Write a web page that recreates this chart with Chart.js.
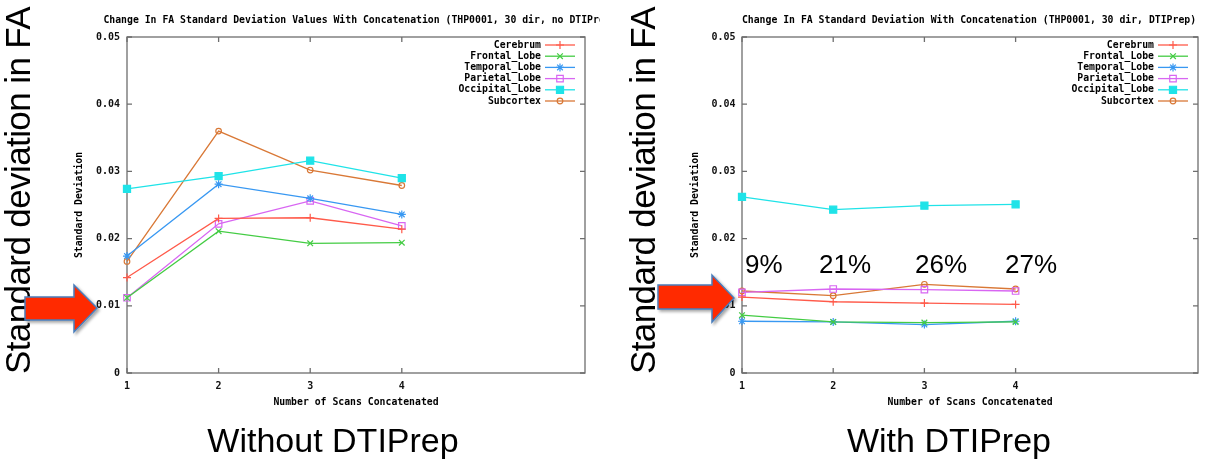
<!DOCTYPE html>
<html>
<head>
<meta charset="utf-8">
<script src="https://cdn.jsdelivr.net/npm/chart.js@4.4.1/dist/chart.umd.min.js"></script>
<style>
html, body { margin: 0; padding: 0; background: #fff; }
body { width: 1205px; height: 461px; position: relative; overflow: hidden; font-family: "Liberation Sans", Arial, sans-serif; color: #000; }
.panel { position: absolute; top: 0; height: 420px; }
#leftBox { left: 0; width: 600px; }
#rightBox { left: 600px; width: 605px; background: #fff; }
.big { position: absolute; left: 0; top: 0; font-size: 35px; letter-spacing: -0.6px; line-height: 1; white-space: nowrap; transform-origin: 0 0; }
.caption { position: absolute; font-size: 34px; line-height: 1; white-space: nowrap; transform: translate(-50%, -50%); }
.pct { position: absolute; top: 251px; font-size: 26px; line-height: 1; white-space: nowrap; }
svg.arrows { position: absolute; left: 0; top: 0; }
</style>
</head>
<body>
<div class="panel" id="leftBox"><canvas id="noPrepChart"></canvas></div>
<div class="panel" id="rightBox"><canvas id="prepChart"></canvas></div>

<div class="big" style="transform: translate(0px, 374px) rotate(-90deg);">Standard deviation in FA</div>
<div class="big" style="transform: translate(625px, 374px) rotate(-90deg);">Standard deviation in FA</div>

<svg class="arrows" width="1205" height="461">
  <defs>
    <filter id="shadow" x="-20%" y="-20%" width="150%" height="150%">
      <feDropShadow dx="2" dy="2" stdDeviation="1.5" flood-color="#000" flood-opacity="0.35"/>
    </filter>
  </defs>
  <polygon points="25,297 74,297 74,285 97,308 74,332 74,320 25,320" fill="#ff2a00" stroke="#4a7ebb" stroke-width="1.5" filter="url(#shadow)"/>
  <polygon points="658,285 712,285 712,275 734,298 712,322 712,309 658,309" fill="#ff2a00" stroke="#4a7ebb" stroke-width="1.5" filter="url(#shadow)"/>
</svg>

<div class="pct" style="left:745px;">9%</div>
<div class="pct" style="left:819px;">21%</div>
<div class="pct" style="left:915px;">26%</div>
<div class="pct" style="left:1005px;">27%</div>

<div class="caption" style="left:333px; top:440px;">Without DTIPrep</div>
<div class="caption" style="left:949px; top:440px;">With DTIPrep</div>

<script>
// number of scans concatenated
var xScans = [1, 2, 3, 4];
var xTicks = [1, 2, 3, 4];
var yTicks = [0, 0.01, 0.02, 0.03, 0.04, 0.05];

var regions = ["Cerebrum", "Frontal_Lobe", "Temporal_Lobe", "Parietal_Lobe", "Occipital_Lobe", "Subcortex"];

// FA standard deviation, no DTIPrep
var cerebrumNo  = [0.0142, 0.0230, 0.0231, 0.0214];
var frontalNo   = [0.0112, 0.0211, 0.0193, 0.0194];
var temporalNo  = [0.0174, 0.0281, 0.0260, 0.0236];
var parietalNo  = [0.0112, 0.0222, 0.0256, 0.0219];
var occipitalNo = [0.0274, 0.0293, 0.0316, 0.0290];
var subcortexNo = [0.0166, 0.0360, 0.0302, 0.0279];

// FA standard deviation, with DTIPrep
var cerebrumPrep  = [0.0113, 0.0106, 0.0104, 0.0102];
var frontalPrep   = [0.0086, 0.0076, 0.0075, 0.0076];
var temporalPrep  = [0.0077, 0.0076, 0.0072, 0.0077];
var parietalPrep  = [0.0120, 0.0125, 0.0124, 0.0122];
var occipitalPrep = [0.0262, 0.0243, 0.0249, 0.0251];
var subcortexPrep = [0.0122, 0.0115, 0.0132, 0.0125];

var mono = "DejaVu Sans Mono";

var looks = [
  { color: "#ff5a4a", style: "cross",    radius: 4,   fill: "#ff5a4a" },
  { color: "#44cc44", style: "crossRot", radius: 4,   fill: "#44cc44" },
  { color: "#3898f2", style: "star",     radius: 4,   fill: "#3898f2" },
  { color: "#d866f2", style: "rect",     radius: 4.6, fill: "rgba(255,255,255,0)" },
  { color: "#1fe3e8", style: "rect",     radius: 5,   fill: "#1fe3e8" },
  { color: "#d97836", style: "circle",   radius: 2.8, fill: "rgba(255,255,255,0)" }
];

function makeSets(series) {
  return series.map(function (vals, i) {
    var lk = looks[i];
    return {
      label: regions[i],
      data: vals.map(function (v, j) { return { x: xScans[j], y: v }; }),
      borderColor: lk.color,
      backgroundColor: lk.fill,
      borderWidth: 1.3,
      pointStyle: lk.style,
      pointRadius: lk.radius,
      pointHoverRadius: lk.radius,
      pointBorderColor: lk.color,
      pointBackgroundColor: lk.fill,
      pointBorderWidth: 1.2,
      tension: 0,
      clip: false
    };
  });
}

// gnuplot style frame with inward tics on all four sides
var gnuFrame = {
  id: "gnuFrame",
  beforeDatasetsDraw: function (chart) {
    var ctx = chart.ctx, a = chart.chartArea, x = chart.scales.x, y = chart.scales.y;
    ctx.save();
    ctx.strokeStyle = "#6e6e6e";
    ctx.lineWidth = 1.3;
    ctx.strokeRect(a.left, a.top, a.right - a.left, a.bottom - a.top);
    ctx.beginPath();
    xTicks.forEach(function (v) {
      var px = x.getPixelForValue(v);
      ctx.moveTo(px, a.bottom); ctx.lineTo(px, a.bottom - 5);
      ctx.moveTo(px, a.top); ctx.lineTo(px, a.top + 5);
    });
    yTicks.forEach(function (v) {
      var py = y.getPixelForValue(v);
      ctx.moveTo(a.left, py); ctx.lineTo(a.left + 5, py);
      ctx.moveTo(a.right, py); ctx.lineTo(a.right - 5, py);
    });
    ctx.stroke();
    ctx.restore();
  }
};

// key in the top right corner, text then sample
var gnuKey = {
  id: "gnuKey",
  afterDatasetsDraw: function (chart) {
    var ctx = chart.ctx, a = chart.chartArea;
    ctx.save();
    ctx.font = "bold 9.8px '" + mono + "'";
    ctx.textAlign = "right";
    ctx.textBaseline = "middle";
    chart.data.datasets.forEach(function (ds, i) {
      var yy = a.top + 8 + i * 11.2;
      var x1 = a.right - 40, x2 = a.right - 10;
      ctx.fillStyle = "#000";
      ctx.fillText(ds.label, x1 - 4, yy);
      ctx.strokeStyle = ds.borderColor;
      ctx.lineWidth = 1.3;
      ctx.beginPath(); ctx.moveTo(x1, yy); ctx.lineTo(x2, yy); ctx.stroke();
      ctx.fillStyle = ds.pointBackgroundColor;
      ctx.lineWidth = ds.pointBorderWidth;
      if (Chart.helpers && Chart.helpers.drawPoint) {
        Chart.helpers.drawPoint(ctx, {
          pointStyle: ds.pointStyle, radius: ds.pointRadius,
          borderWidth: ds.pointBorderWidth, rotation: 0
        }, (x1 + x2) / 2, yy);
      }
    });
    ctx.restore();
  }
};

var gnuTitle = {
  id: "gnuTitle",
  afterDraw: function (chart, args, opts) {
    var ctx = chart.ctx, a = chart.chartArea;
    ctx.save();
    ctx.font = "bold 9.8px '" + mono + "'";
    ctx.fillStyle = "#000";
    ctx.textAlign = "center";
    ctx.textBaseline = "middle";
    ctx.fillText(opts.text, (a.left + a.right) / 2 + (opts.dx || 0), 20);
    ctx.restore();
  }
};

function makeChart(id, series, title, dx, padLeft, axisWidth, padRight, labelPad) {
  return new Chart(document.getElementById(id), {
    type: "line",
    data: { datasets: makeSets(series) },
    plugins: [gnuFrame, gnuKey, gnuTitle],
    options: {
      responsive: true,
      maintainAspectRatio: false,
      animation: false,
      events: [],
      layout: { autoPadding: false, padding: { top: 37, left: padLeft, right: padRight, bottom: 0 } },
      scales: {
        x: {
          type: "linear",
          min: 1, max: 6,
          grid: { display: false, drawTicks: false },
          border: { display: false },
          afterFit: function (s) { s.height = 47; },
          ticks: {
            stepSize: 1, autoSkip: false, padding: 7, color: "#111",
            font: { family: mono, weight: "bold", size: 10 },
            callback: function (v) { return xTicks.indexOf(v) >= 0 ? String(v) : ""; }
          },
          title: {
            display: true, text: "Number of Scans Concatenated", color: "#000",
            font: { family: mono, weight: "bold", size: 9.8 },
            padding: { top: 4, bottom: 12 }
          }
        },
        y: {
          min: 0, max: 0.05,
          grid: { display: false, drawTicks: false },
          border: { display: false },
          afterFit: function (s) { s.width = axisWidth; },
          ticks: {
            stepSize: 0.01, padding: labelPad, color: "#111",
            font: { family: mono, weight: "bold", size: 10 },
            callback: function (v) { return v === 0 ? "0" : v.toFixed(2); }
          },
          title: {
            display: true, text: "Standard Deviation", color: "#000",
            font: { family: mono, weight: "bold", size: 9.8 },
            padding: { top: 4, bottom: 4 }
          }
        }
      },
      plugins: {
        legend: { display: false },
        tooltip: { enabled: false },
        gnuTitle: { text: title, dx: dx }
      }
    }
  });
}

makeChart("noPrepChart",
  [cerebrumNo, frontalNo, temporalNo, parietalNo, occipitalNo, subcortexNo],
  "Change In FA Standard Deviation Values With Concatenation (THP0001, 30 dir, no DTIPrep)",
  4, 70, 57, 15, 7);

makeChart("prepChart",
  [cerebrumPrep, frontalPrep, temporalPrep, parietalPrep, occipitalPrep, subcortexPrep],
  "Change In FA Standard Deviation With Concatenation (THP0001, 30 dir, DTIPrep)",
  -1, 86, 56, 2, 6.5);
</script>
</body>
</html>
